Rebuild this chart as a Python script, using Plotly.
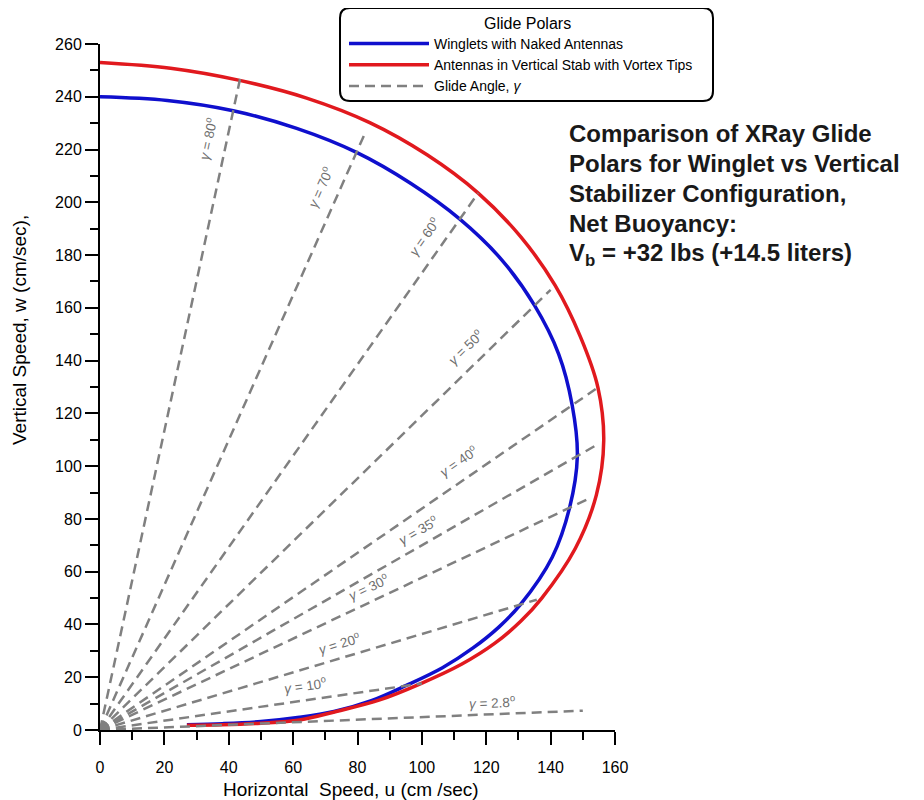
import math
import plotly.graph_objects as go

# ---------------- data ----------------
blue_u = [0, 20.9, 41.4, 61.1, 79.7, 96.6, 111.8, 124.8, 135, 142.5, 146.7, 148.3, 145.9, 140.5,
          130.6, 124.0, 115.9, 106.4, 95, 84.3, 72.7, 62, 50, 38, 27]
blue_w = [240, 238.6, 234.7, 228, 218.9, 207.1, 193.6, 178.2, 160.9, 142.5, 123.1, 103.8, 84.3, 65.5,
          47.5, 39.1, 31.1, 23.6, 16.8, 11.1, 7.0, 4.8, 3.2, 2.4, 2]

red_u = [0, 21.9, 43.4, 64.2, 83.8, 101.6, 117.5, 130.8, 141.4, 149.2, 154.7, 156.5, 154.2, 147.7,
         137.2, 130.7, 122.7, 112.3, 99.5, 86.9, 73.7, 62, 50, 38, 27]
red_w = [253, 250.8, 246.2, 239.5, 230.2, 218.0, 203.5, 186.8, 168.5, 149.2, 129.8, 109.6, 89, 68.9,
         49.9, 41.2, 32.9, 24.9, 17.5, 11.4, 7.1, 3.8, 2.6, 2, 1.8]

gamma_deg = [2.8, 10, 20, 30, 35, 40, 50, 60, 70, 80]
gamma_u_end = [150, 100, 135.7, 152, 155, 154, 140, 117.5, 82, 43.5]
gamma_label = ["2.8", "10", "20", "30", "35", "40", "50", "60", "70", "80"]
label_u = [122, 64.4, 75.6, 85.1, 101, 114.5, 117.5, 105.6, 73.8, 39.2]

x_ticks = [0, 20, 40, 60, 80, 100, 120, 140, 160]
y_ticks = [0, 20, 40, 60, 80, 100, 120, 140, 160, 180, 200, 220, 240, 260]

title_lines = ["Comparison of XRay Glide",
               "Polars for Winglet vs Vertical",
               "Stabilizer Configuration,",
               "Net Buoyancy:",
               "V<sub>b</sub> = +32 lbs (+14.5 liters)"]

# ---------------- layout geometry ----------------
BODY = 8                      # page margin around the figure
W, H = 916, 792
ML, MT = 92, 36
PW, PH = 515, 686
MR, MB = W - ML - PW, H - MT - PH
XR, YR = [0, 160], [0, 260]
kx = PW / (XR[1] - XR[0])
ky = PH / (YR[1] - YR[0])

def sx(px):   # screen px -> paper x
    return (px - BODY - ML) / PW

def sy(py):   # screen px -> paper y
    return (MT + PH - (py - BODY)) / PH

FONT = "Arial, Liberation Sans, sans-serif"
GRAY = "rgb(128,128,128)"
LGRAY = "rgb(110,110,110)"

fig = go.Figure()

fig.add_trace(go.Scatter(x=blue_u, y=blue_w, mode="lines", name="Winglets with Naked Antennas",
                         line=dict(color="rgb(15,15,205)", width=3.5, shape="spline", smoothing=1.0)))
fig.add_trace(go.Scatter(x=red_u, y=red_w, mode="lines", name="Antennas in Vertical Stab with Vortex Tips",
                         line=dict(color="rgb(225,25,30)", width=3.5, shape="spline", smoothing=1.0)))

for i, (g, ue) in enumerate(zip(gamma_deg, gamma_u_end)):
    t = math.tan(math.radians(g))
    fig.add_trace(go.Scatter(x=[0, ue], y=[0, ue * t], mode="lines",
                             name="Glide Angle, <i>γ</i>", legendgroup="gamma",
                             showlegend=(i == 0),
                             line=dict(color=GRAY, width=2.5, dash="10px,6px")))

# angle labels
annotations = []
for g, lu, lab in zip(gamma_deg, label_u, gamma_label):
    t = math.tan(math.radians(g))
    theta = math.atan(t * ky / kx)
    off = 12 if g < 5 else (15 if g <= 35 else 19)
    annotations.append(dict(
        x=lu, y=lu * t, xref="x", yref="y", xanchor="center", yanchor="middle",
        text="<i>γ</i> = " + lab + "<sup>o</sup>",
        showarrow=False, textangle=-math.degrees(theta),
        xshift=-off * math.sin(theta), yshift=off * math.cos(theta),
        font=dict(family=FONT, size=13.5, color=LGRAY)))

# title block
for j, line in enumerate(title_lines):
    annotations.append(dict(
        x=sx(567), y=sy(133 + 30.3 * j), xref="paper", yref="paper",
        xanchor="left", yanchor="middle", align="left", showarrow=False,
        text="<b>" + line + "</b>", font=dict(family=FONT, size=24, color="rgb(25,25,25)")))

# legend heading
annotations.append(dict(x=sx(527), y=sy(23), xref="paper", yref="paper",
                        xanchor="center", yanchor="middle", showarrow=False,
                        text="Glide Polars", font=dict(family=FONT, size=16, color="black")))

# axis titles
annotations.append(dict(x=sx(351), y=sy(789), xref="paper", yref="paper",
                        xanchor="center", yanchor="middle",
                        showarrow=False, text="Horizontal  Speed, u (cm /sec)",
                        font=dict(family=FONT, size=19, color="black")))
annotations.append(dict(x=sx(19), y=sy(330), xref="paper", yref="paper",
                        xanchor="center", yanchor="middle",
                        showarrow=False, textangle=-90, text="Vertical Speed, w (cm/sec),",
                        font=dict(family=FONT, size=19, color="black")))

# rounded legend box
lx0, lx1, ly0, ly1 = sx(340), sx(713), sy(101), sy(8)
rx, ry = 10 / PW, 10 / PH
path = (f"M {lx0+rx},{ly0} L {lx1-rx},{ly0} Q {lx1},{ly0} {lx1},{ly0+ry} "
        f"L {lx1},{ly1-ry} Q {lx1},{ly1} {lx1-rx},{ly1} L {lx0+rx},{ly1} "
        f"Q {lx0},{ly1} {lx0},{ly1-ry} L {lx0},{ly0+ry} Q {lx0},{ly0} {lx0+rx},{ly0} Z")

fig.update_layout(
    width=W, height=H,
    margin=dict(l=ML, r=MR, t=MT, b=MB, pad=0, autoexpand=False),
    paper_bgcolor="white", plot_bgcolor="white",
    font=dict(family=FONT, size=16, color="black"),
    showlegend=True,
    legend=dict(x=sx(344), y=sy(28), xanchor="left", yanchor="top",
                bgcolor="rgba(0,0,0,0)", borderwidth=0,
                itemwidth=80, tracegroupgap=0,
                font=dict(family=FONT, size=14, color="black")),
    shapes=[dict(type="path", path=path, xref="paper", yref="paper", layer="above",
                 fillcolor="white", line=dict(color="black", width=2))],
    annotations=annotations,
)

axis_common = dict(showgrid=False, zeroline=False, showline=True, linecolor="black", linewidth=2,
                   ticks="outside", ticklen=13, tickwidth=2, tickcolor="black",
                   tickfont=dict(family=FONT, size=16, color="black"))
fig.update_xaxes(range=XR, tickvals=x_ticks, ticklabelstandoff=9, **axis_common,
                 minor=dict(dtick=10, tick0=0, ticks="outside", ticklen=8, tickwidth=2, tickcolor="black"))
fig.update_yaxes(range=YR, tickvals=y_ticks, **axis_common,
                 minor=dict(dtick=10, tick0=0, ticks="outside", ticklen=8, tickwidth=2, tickcolor="black"))

fig.write_html("out.html")
